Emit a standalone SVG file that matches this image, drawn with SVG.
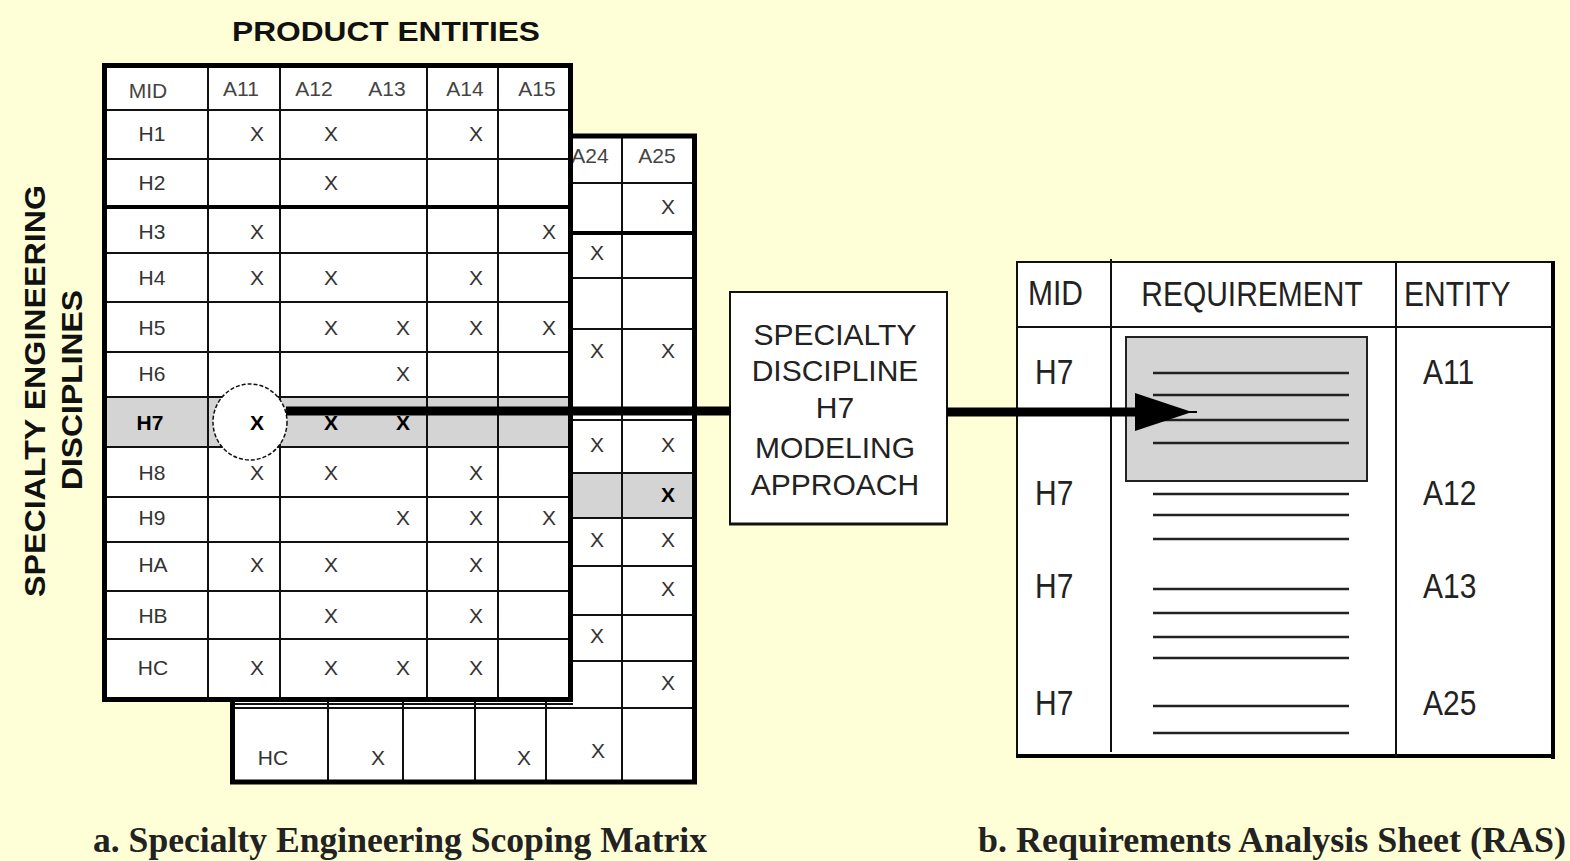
<svg xmlns="http://www.w3.org/2000/svg" width="1570" height="861" viewBox="0 0 1570 861">
  <style>
    .cell { font-family: "Liberation Sans", Arial, sans-serif; font-size: 21px; fill: #333; text-anchor: middle; }
    .hdr { font-family: "Liberation Sans", Arial, sans-serif; font-size: 21px; fill: #444; text-anchor: middle; }
    .xb { font-family: "Liberation Sans", Arial, sans-serif; font-size: 21px; fill: #000; font-weight: bold; text-anchor: middle; }
    .ln { stroke: #111; stroke-width: 2; fill: none; }
    .lnb { stroke: #000; stroke-width: 4; fill: none; }
    .box { font-family: "Liberation Sans", Arial, sans-serif; font-size: 30px; fill: #222; text-anchor: middle; }
    .ras { font-family: "Liberation Sans", Arial, sans-serif; font-size: 30px; fill: #222; }
    .req { stroke: #222; stroke-width: 2.5; }
    .title { font-family: "Liberation Sans", Arial, sans-serif; font-weight: bold; fill: #111; }
    .cap { font-family: "Liberation Serif", "Times New Roman", serif; font-weight: bold; font-size: 36px; fill: #222; }
  </style>

  <rect x="0" y="0" width="1570" height="861" fill="#FFFFD7"/>

  <!-- axis titles -->
  <text class="title" x="386" y="41" font-size="28" text-anchor="middle" textLength="308" lengthAdjust="spacingAndGlyphs">PRODUCT ENTITIES</text>
  <text class="title" font-size="30" text-anchor="middle" transform="translate(45,391) rotate(-90)" textLength="412" lengthAdjust="spacingAndGlyphs">SPECIALTY ENGINEERING</text>
  <text class="title" font-size="30" text-anchor="middle" transform="translate(82,390) rotate(-90)" textLength="200" lengthAdjust="spacingAndGlyphs">DISCIPLINES</text>

  <!-- rear sheet of the scoping matrix -->
  <g id="matrix-back">
    <rect x="232.5" y="136" width="462" height="646" fill="#fff"/>
    <rect x="573" y="473" width="122" height="45" fill="#d4d4d4"/>
    <g class="ln">
      <line x1="232" y1="183" x2="695" y2="183"/>
      <line x1="232" y1="278" x2="695" y2="278"/>
      <line x1="232" y1="329" x2="695" y2="329"/>
      <line x1="232" y1="420" x2="695" y2="420"/>
      <line x1="232" y1="473" x2="695" y2="473"/>
      <line x1="232" y1="518" x2="695" y2="518"/>
      <line x1="232" y1="566" x2="695" y2="566"/>
      <line x1="232" y1="615" x2="695" y2="615"/>
      <line x1="232" y1="661" x2="695" y2="661"/>
      <line x1="232" y1="708" x2="695" y2="708"/>
      <line x1="232" y1="704" x2="573" y2="704"/>
      <line x1="328" y1="136" x2="328" y2="782"/>
      <line x1="403" y1="136" x2="403" y2="782"/>
      <line x1="475" y1="136" x2="475" y2="782"/>
      <line x1="546" y1="136" x2="546" y2="782"/>
      <line x1="622" y1="136" x2="622" y2="782"/>
    </g>
    <g class="ln" stroke-width="3.5">
      <line x1="328" y1="758" x2="328" y2="782"/>
      <line x1="403" y1="758" x2="403" y2="782"/>
      <line x1="475" y1="758" x2="475" y2="782"/>
      <line x1="546" y1="758" x2="546" y2="782"/>
    </g>
    <line class="lnb" x1="573" y1="233" x2="695" y2="233"/>
    <rect x="232.5" y="136" width="462" height="646" fill="none" stroke="#000" stroke-width="5"/>
    <text class="hdr" x="590" y="163">A24</text>
    <text class="hdr" x="657" y="163">A25</text>
    <text class="cell" x="668" y="214">X</text>
    <text class="cell" x="597" y="260">X</text>
    <text class="cell" x="597" y="358">X</text>
    <text class="cell" x="668" y="358">X</text>
    <text class="cell" x="597" y="452">X</text>
    <text class="cell" x="668" y="452">X</text>
    <text class="xb" x="668" y="502">X</text>
    <text class="cell" x="597" y="547">X</text>
    <text class="cell" x="668" y="547">X</text>
    <text class="cell" x="668" y="596">X</text>
    <text class="cell" x="597" y="643">X</text>
    <text class="cell" x="668" y="690">X</text>
    <text class="cell" x="273" y="765">HC</text>
    <text class="cell" x="378" y="765">X</text>
    <text class="cell" x="524" y="765">X</text>
    <text class="cell" x="598" y="758">X</text>
  </g>

  <!-- front sheet of the scoping matrix -->
  <g id="matrix-front">
    <rect x="104.5" y="65.5" width="466" height="634" fill="#fff"/>
    <rect x="107" y="397" width="463" height="50" fill="#d4d4d4"/>
    <g class="ln">
      <line x1="104" y1="159" x2="571" y2="159"/>
      <line x1="104" y1="253" x2="571" y2="253"/>
      <line x1="104" y1="302" x2="571" y2="302"/>
      <line x1="104" y1="352" x2="571" y2="352"/>
      <line x1="104" y1="397" x2="571" y2="397"/>
      <line x1="104" y1="447" x2="571" y2="447"/>
      <line x1="104" y1="497" x2="571" y2="497"/>
      <line x1="104" y1="542" x2="571" y2="542"/>
      <line x1="104" y1="591" x2="571" y2="591"/>
      <line x1="104" y1="639" x2="571" y2="639"/>
    </g>
    <g class="ln" stroke-width="2.5">
      <line x1="208" y1="65" x2="208" y2="700"/>
      <line x1="280" y1="65" x2="280" y2="700"/>
      <line x1="427" y1="65" x2="427" y2="700"/>
      <line x1="498" y1="65" x2="498" y2="700"/>
    </g>
    <line class="ln" stroke-width="3" x1="104" y1="110" x2="571" y2="110"/>
    <line class="lnb" x1="104" y1="207" x2="571" y2="207"/>
    <rect x="104.5" y="65.5" width="466" height="634" fill="none" stroke="#000" stroke-width="5"/>

    <!-- header row -->
    <text class="hdr" x="148" y="98">MID</text>
    <text class="hdr" x="241" y="96">A11</text>
    <text class="hdr" x="314" y="96">A12</text>
    <text class="hdr" x="387" y="96">A13</text>
    <text class="hdr" x="465" y="96">A14</text>
    <text class="hdr" x="537" y="96">A15</text>

    <!-- row labels -->
    <text class="cell" x="152" y="141">H1</text>
    <text class="cell" x="152" y="190">H2</text>
    <text class="cell" x="152" y="239">H3</text>
    <text class="cell" x="152" y="285">H4</text>
    <text class="cell" x="152" y="335">H5</text>
    <text class="cell" x="152" y="381">H6</text>
    <text class="xb" x="150" y="430">H7</text>
    <text class="cell" x="152" y="480">H8</text>
    <text class="cell" x="152" y="525">H9</text>
    <text class="cell" x="153" y="572">HA</text>
    <text class="cell" x="153" y="623">HB</text>
    <text class="cell" x="153" y="675">HC</text>

    <!-- marks: A11=257 A12=331 A13=403 A14=476 A15=549 -->
    <text class="cell" x="257" y="141">X</text>
    <text class="cell" x="331" y="141">X</text>
    <text class="cell" x="476" y="141">X</text>
    <text class="cell" x="331" y="190">X</text>
    <text class="cell" x="257" y="239">X</text>
    <text class="cell" x="549" y="239">X</text>
    <text class="cell" x="257" y="285">X</text>
    <text class="cell" x="331" y="285">X</text>
    <text class="cell" x="476" y="285">X</text>
    <text class="cell" x="331" y="335">X</text>
    <text class="cell" x="403" y="335">X</text>
    <text class="cell" x="476" y="335">X</text>
    <text class="cell" x="549" y="335">X</text>
    <text class="cell" x="403" y="381">X</text>
    <text class="xb" x="331" y="430">X</text>
    <text class="xb" x="403" y="430">X</text>
    <text class="cell" x="257" y="480">X</text>
    <text class="cell" x="331" y="480">X</text>
    <text class="cell" x="476" y="480">X</text>
    <text class="cell" x="403" y="525">X</text>
    <text class="cell" x="476" y="525">X</text>
    <text class="cell" x="549" y="525">X</text>
    <text class="cell" x="257" y="572">X</text>
    <text class="cell" x="331" y="572">X</text>
    <text class="cell" x="476" y="572">X</text>
    <text class="cell" x="331" y="623">X</text>
    <text class="cell" x="476" y="623">X</text>
    <text class="cell" x="257" y="675">X</text>
    <text class="cell" x="331" y="675">X</text>
    <text class="cell" x="403" y="675">X</text>
    <text class="cell" x="476" y="675">X</text>

    <!-- selected cell -->
    <ellipse cx="250" cy="422" rx="37" ry="38" fill="#fff" stroke="#111" stroke-width="1.5" stroke-dasharray="4 2"/>
    <text class="xb" x="257" y="430">X</text>
  </g>

  <!-- requirements analysis sheet -->
  <g id="ras-sheet">
    <rect x="1017" y="262" width="537" height="495" fill="#fff" stroke="#111" stroke-width="2"/>
    <line class="lnb" x1="1553" y1="261" x2="1553" y2="759"/>
    <line class="lnb" x1="1016" y1="756" x2="1555" y2="756"/>
    <line class="ln" x1="1017" y1="327" x2="1553" y2="327"/>
    <line class="ln" x1="1111" y1="259" x2="1111" y2="752"/>
    <line class="ln" x1="1396" y1="262" x2="1396" y2="757"/>
    <rect x="1126" y="337" width="241" height="144" fill="#d4d4d4" stroke="#222" stroke-width="2"/>

    <text class="ras" transform="translate(1028,305) scale(1,1.15)">MID</text>
    <text class="ras" text-anchor="middle" transform="translate(1252,306) scale(1,1.15)">REQUIREMENT</text>
    <text class="ras" transform="translate(1404,306) scale(1,1.15)">ENTITY</text>

    <g class="req">
      <line x1="1153" y1="373" x2="1349" y2="373"/>
      <line x1="1153" y1="395" x2="1349" y2="395"/>
      <line x1="1153" y1="420" x2="1349" y2="420"/>
      <line x1="1153" y1="443" x2="1349" y2="443"/>
      <line x1="1153" y1="494" x2="1349" y2="494"/>
      <line x1="1153" y1="515" x2="1349" y2="515"/>
      <line x1="1153" y1="539" x2="1349" y2="539"/>
      <line x1="1153" y1="589" x2="1349" y2="589"/>
      <line x1="1153" y1="613" x2="1349" y2="613"/>
      <line x1="1153" y1="637" x2="1349" y2="637"/>
      <line x1="1153" y1="658" x2="1349" y2="658"/>
      <line x1="1153" y1="706" x2="1349" y2="706"/>
      <line x1="1153" y1="733" x2="1349" y2="733"/>
    </g>

    <text class="ras" transform="translate(1035,384) scale(1,1.15)">H7</text>
    <text class="ras" transform="translate(1035,505) scale(1,1.15)">H7</text>
    <text class="ras" transform="translate(1035,598) scale(1,1.15)">H7</text>
    <text class="ras" transform="translate(1035,715) scale(1,1.15)">H7</text>
    <text class="ras" transform="translate(1423,384) scale(1,1.15)">A11</text>
    <text class="ras" transform="translate(1423,505) scale(1,1.15)">A12</text>
    <text class="ras" transform="translate(1423,598) scale(1,1.15)">A13</text>
    <text class="ras" transform="translate(1423,715) scale(1,1.15)">A25</text>
  </g>

  <!-- modeling approach box -->
  <g id="modeling-box">
    <rect x="730" y="292" width="217" height="232" fill="#fff" stroke="#111" stroke-width="2"/>
    <line x1="729" y1="524" x2="948" y2="524" stroke="#111" stroke-width="3"/>
    <text class="box" x="835" y="345">SPECIALTY</text>
    <text class="box" x="835" y="381">DISCIPLINE</text>
    <text class="box" x="835" y="418">H7</text>
    <text class="box" x="835" y="458">MODELING</text>
    <text class="box" x="835" y="495">APPROACH</text>
  </g>

  <!-- flow from selected discipline to the sheet -->
  <g id="connectors">
    <line x1="286" y1="411" x2="731" y2="411" stroke="#000" stroke-width="9"/>
    <line x1="947" y1="412" x2="1140" y2="412" stroke="#000" stroke-width="9"/>
    <polygon points="1135,393 1192,412 1135,431" fill="#000"/>
    <line x1="1180" y1="412" x2="1197" y2="412" stroke="#000" stroke-width="2"/>
  </g>

  <!-- captions -->
  <text class="cap" x="93" y="852" textLength="614" lengthAdjust="spacingAndGlyphs">a.  Specialty Engineering Scoping Matrix</text>
  <text class="cap" x="978" y="852" textLength="588" lengthAdjust="spacingAndGlyphs">b.  Requirements Analysis Sheet (RAS)</text>
</svg>
